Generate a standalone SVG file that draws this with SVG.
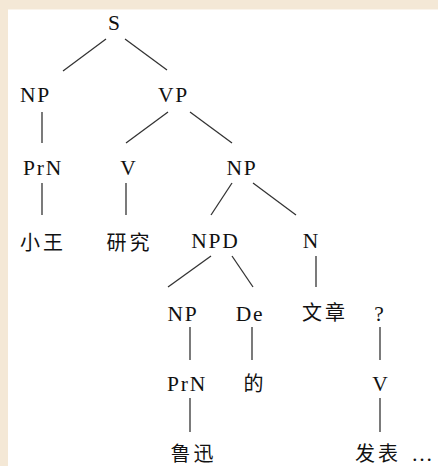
<svg xmlns="http://www.w3.org/2000/svg" width="438" height="466" viewBox="0 0 438 466">
<style>
.lat{font-family:"Liberation Serif","Times New Roman",serif;font-size:21.5px;fill:#111;text-anchor:middle;letter-spacing:1.8px}
.cjk{font-family:"Noto Sans CJK SC","Noto Sans",sans-serif;font-size:20px;fill:#111;text-anchor:middle;letter-spacing:3px}
.edge{stroke:#333;stroke-width:1.3;fill:none}
</style>
<rect x="0" y="0" width="438" height="466" fill="#F4E8D6"/>
<rect x="8" y="9.5" width="430" height="456.5" fill="#FFFFFF"/>
<g id="connectors">
<line class="edge" x1="106" y1="39" x2="63" y2="71"/>
<line class="edge" x1="125" y1="39" x2="167" y2="70"/>
<line class="edge" x1="42" y1="112" x2="42" y2="143"/>
<line class="edge" x1="168" y1="112" x2="126" y2="143"/>
<line class="edge" x1="190" y1="112" x2="232" y2="143"/>
<line class="edge" x1="42" y1="183" x2="42" y2="215"/>
<line class="edge" x1="126" y1="183" x2="126" y2="215"/>
<line class="edge" x1="232" y1="183" x2="211" y2="215"/>
<line class="edge" x1="253" y1="183" x2="296" y2="215"/>
<line class="edge" x1="211" y1="256" x2="168" y2="287"/>
<line class="edge" x1="232" y1="256" x2="253" y2="287"/>
<line class="edge" x1="316" y1="256" x2="316" y2="287"/>
<line class="edge" x1="190" y1="327" x2="190" y2="360"/>
<line class="edge" x1="252" y1="327" x2="252" y2="360"/>
<line class="edge" x1="380" y1="327" x2="380" y2="360"/>
<line class="edge" x1="190" y1="398" x2="190" y2="432"/>
<line class="edge" x1="380" y1="398" x2="380" y2="432"/>
</g>
<g id="n-S"><text class="lat" x="115" y="30">S</text></g>
<g id="n-NP1"><text class="lat" x="35.5" y="102">NP</text></g>
<g id="n-VP"><text class="lat" x="173.5" y="102">VP</text></g>
<g id="n-PrN1"><text class="lat" x="43" y="175">PrN</text></g>
<g id="n-V1"><text class="lat" x="129" y="175">V</text></g>
<g id="n-NP2"><text class="lat" x="242" y="175">NP</text></g>
<g id="n-xiaowang"><text class="cjk" x="43" y="250">小王</text></g>
<g id="n-yanjiu"><text class="cjk" x="129.5" y="250">研究</text></g>
<g id="n-NPD"><text class="lat" x="215.5" y="248">NPD</text></g>
<g id="n-N"><text class="lat" x="311.5" y="248">N</text></g>
<g id="n-NP3"><text class="lat" x="183" y="321">NP</text></g>
<g id="n-De"><text class="lat" x="250" y="321">De</text></g>
<g id="n-wenzhang"><text class="cjk" x="325" y="320">文章</text></g>
<g id="n-q"><text class="lat" x="380" y="321">?</text></g>
<g id="n-PrN2"><text class="lat" x="187" y="391">PrN</text></g>
<g id="n-de"><text class="cjk" x="255" y="391">的</text></g>
<g id="n-V2"><text class="lat" x="381" y="391">V</text></g>
<g id="n-luxun"><text class="cjk" x="193.5" y="461">鲁迅</text></g>
<g id="n-fabiao"><text class="cjk" x="378" y="461">发表</text><text class="lat" x="423" y="461">…</text></g>
</svg>
